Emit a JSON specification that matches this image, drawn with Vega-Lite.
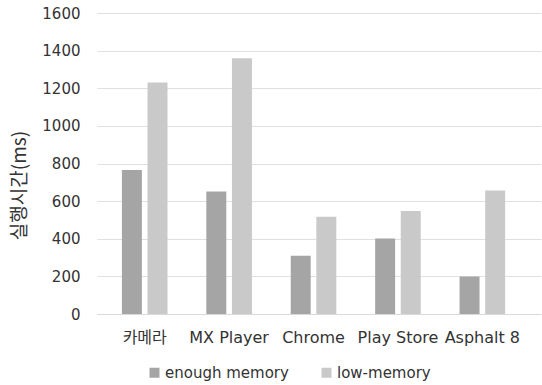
{
  "$schema": "https://vega.github.io/schema/vega-lite/v6.json",
  "width": 444,
  "height": 301,
  "autosize": {"type": "none"},
  "padding": {"left": 97, "top": 13, "right": 1, "bottom": 71},
  "background": "white",
  "config": {
    "view": {"stroke": null},
    "font": "DejaVu Sans, Noto Sans CJK KR",
    "axis": {"labelColor": "#333333", "titleColor": "#333333"}
  },
  "data": {
    "values": [
      {"app": "카메라", "mode": "enough memory", "time": 765},
      {"app": "카메라", "mode": "low-memory", "time": 1231},
      {"app": "MX Player", "mode": "enough memory", "time": 651},
      {"app": "MX Player", "mode": "low-memory", "time": 1360},
      {"app": "Chrome", "mode": "enough memory", "time": 310},
      {"app": "Chrome", "mode": "low-memory", "time": 517},
      {"app": "Play Store", "mode": "enough memory", "time": 401},
      {"app": "Play Store", "mode": "low-memory", "time": 547},
      {"app": "Asphalt 8", "mode": "enough memory", "time": 199},
      {"app": "Asphalt 8", "mode": "low-memory", "time": 657}
    ]
  },
  "mark": {"type": "bar"},
  "encoding": {
    "x": {
      "field": "app",
      "type": "nominal",
      "sort": null,
      "scale": {"paddingInner": 0.46, "paddingOuter": 0.36, "align": 0.41},
      "axis": {
        "title": null,
        "labelAngle": 0,
        "labelFontSize": 16,
        "labelPadding": 15,
        "labelFont": "DejaVu Sans, Noto Sans CJK KR",
        "ticks": false,
        "domainColor": "#d9d9d9",
        "domainWidth": 1
      }
    },
    "xOffset": {
      "field": "mode",
      "type": "nominal",
      "scale": {"paddingInner": 0.22, "paddingOuter": 0}
    },
    "y": {
      "field": "time",
      "type": "quantitative",
      "scale": {"domain": [0, 1600]},
      "axis": {
        "title": "실행시간(ms)",
        "titleFont": "Noto Sans CJK KR",
        "titleFontSize": 19,
        "titleFontWeight": "normal",
        "titleY": 172,
        "titleX": -68,
        "values": [0, 200, 400, 600, 800, 1000, 1200, 1400, 1600],
        "format": "d",
        "labelFontSize": 15,
        "labelPadding": 17,
        "ticks": false,
        "domain": false,
        "gridColor": "#e0e0e0",
        "gridWidth": 1
      }
    },
    "color": {
      "field": "mode",
      "type": "nominal",
      "scale": {"domain": ["enough memory", "low-memory"], "range": ["#a5a5a5", "#c9c9c9"]},
      "legend": {
        "title": null,
        "orient": "none",
        "direction": "horizontal",
        "legendX": 50,
        "legendY": 352,
        "symbolType": "square",
        "symbolSize": 100,
        "symbolStrokeWidth": 0,
        "labelFontSize": 15,
        "labelFont": "DejaVu Sans",
        "labelColor": "#333333",
        "columnPadding": 30,
        "labelOffset": 3
      }
    }
  }
}
